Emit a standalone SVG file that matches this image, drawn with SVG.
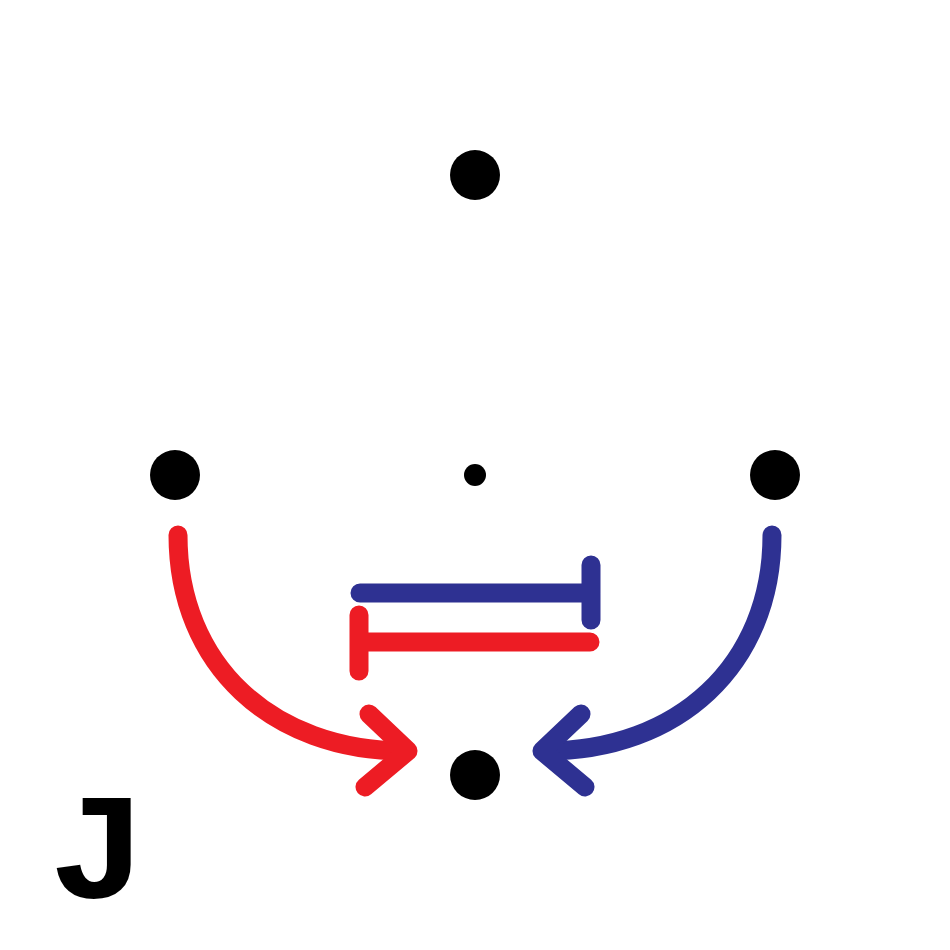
<svg xmlns="http://www.w3.org/2000/svg" width="950" height="950" viewBox="0 0 950 950">
<style>
.node{fill:#000}
.red{fill:none;stroke:#ED1C24;stroke-width:19;stroke-linecap:round;stroke-linejoin:round}
.blue{fill:none;stroke:#2E3192;stroke-width:19;stroke-linecap:round;stroke-linejoin:round}
.lbl{font-family:"Liberation Mono",monospace;font-weight:bold;font-size:150px;fill:#000}
</style>
<rect width="950" height="950" fill="#fff"/>
<g id="node-top"><circle class="node" cx="475" cy="175" r="25"/></g>
<g id="node-left"><circle class="node" cx="175" cy="475" r="25"/></g>
<g id="node-center"><circle class="node" cx="475" cy="475" r="11"/></g>
<g id="node-right"><circle class="node" cx="775" cy="475" r="25"/></g>
<g id="node-bottom"><circle class="node" cx="475" cy="775" r="25"/></g>
<g id="connectors">
<path class="red" d="M178,535 C178,665 272,751 405,751"/>
<path class="red" d="M369,714 L408,751 L365,787"/>
<path class="blue" d="M772,535 C772,665 678,751 545,751"/>
<path class="blue" d="M581,714 L542,751 L585,787"/>
<path class="blue" d="M360,593 L591,593 M591,565 L591,620"/>
<path class="red" d="M590,642 L359,642 M359,615 L359,671"/>
</g>
<text class="lbl" x="0" y="898" text-anchor="middle" transform="translate(98,0) scale(1.1,1)">J</text>
</svg>
